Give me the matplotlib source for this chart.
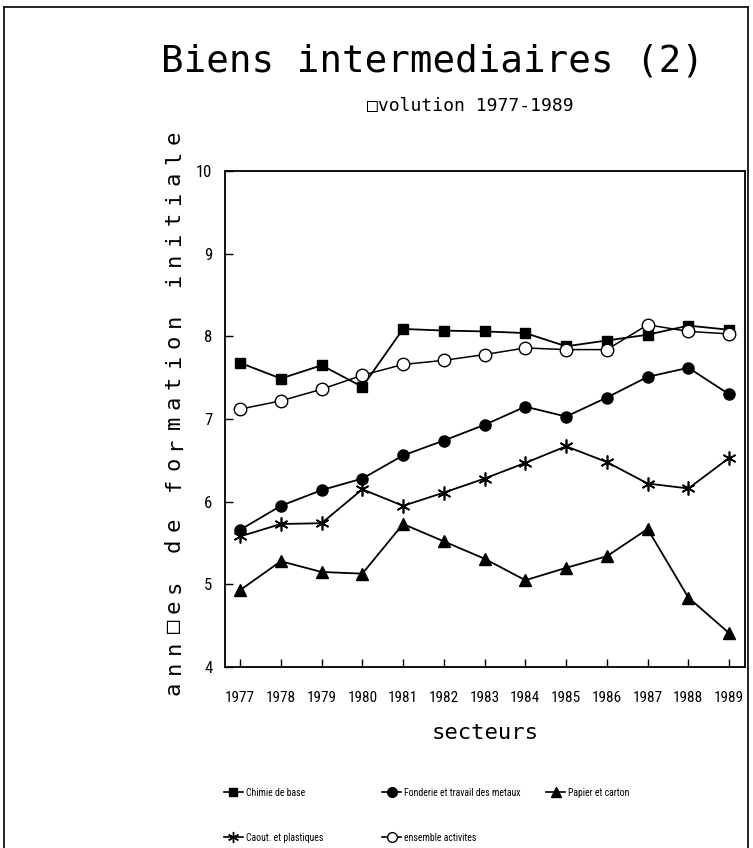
import matplotlib
matplotlib.use('Agg')
import matplotlib.pyplot as plt
from matplotlib.lines import Line2D

# data
years = [1977, 1978, 1979, 1980, 1981, 1982, 1983, 1984, 1985, 1986, 1987, 1988, 1989]
chimie = [7.68, 7.49, 7.65, 7.39, 8.09, 8.07, 8.06, 8.04, 7.88, 7.95, 8.02, 8.13, 8.08]
fonderie = [5.66, 5.95, 6.14, 6.28, 6.56, 6.74, 6.93, 7.15, 7.03, 7.26, 7.51, 7.62, 7.30]
papier = [4.93, 5.28, 5.15, 5.13, 5.73, 5.52, 5.31, 5.05, 5.20, 5.34, 5.67, 4.84, 4.41]
caout = [5.58, 5.73, 5.74, 6.15, 5.95, 6.11, 6.28, 6.47, 6.67, 6.48, 6.22, 6.16, 6.53]
ensemble = [7.12, 7.22, 7.36, 7.53, 7.66, 7.71, 7.78, 7.86, 7.84, 7.84, 8.14, 8.06, 8.03]
yticks = [4, 5, 6, 7, 8, 9, 10]

mono = 'DejaVu Sans Mono'
narrow = ['Roboto Condensed', 'DejaVu Sans Condensed', 'Liberation Sans Narrow', 'Roboto']

fig = plt.figure(figsize=(7.53, 8.48), dpi=100)
ax = fig.add_axes([0.2988, 0.2134, 0.6906, 0.5849])

ax.plot(years, chimie, color='black', lw=1.3, marker='s', ms=7, mfc='black')
ax.plot(years, fonderie, color='black', lw=1.3, marker='o', ms=8, mfc='black')
ax.plot(years, papier, color='black', lw=1.3, marker='^', ms=8, mfc='black')
ax.plot(years, caout, color='black', lw=1.3, marker=(6, 2, 0), ms=10, mew=1.2)
ax.plot(years, ensemble, color='black', lw=1.1, marker='o', ms=9, mfc='white', mew=1.0)

ax.set_xlim(1976.63, 1989.39)
ax.set_ylim(4, 10)
ax.set_xticks(years)
ax.set_xticklabels([str(y) for y in years], fontfamily=narrow, fontsize=11)
ax.set_yticks(yticks)
ax.set_yticklabels([str(v) for v in yticks], fontfamily=narrow, fontsize=12)
ax.tick_params(direction='in', length=6, width=1)
ax.tick_params(axis='x', pad=17)
ax.tick_params(axis='y', pad=9)
for s in ax.spines.values():
    s.set_linewidth(1.3)

ax.set_xlabel('secteurs', fontfamily=mono, fontsize=16, labelpad=13)

fig.text(0.575, 0.927, 'Biens intermediaires (2)', ha='center', va='center',
         fontfamily=mono, fontsize=27)
fig.text(0.625, 0.875, '\u25a1volution 1977-1989', ha='center', va='center',
         fontfamily=mono, fontsize=13)

# y label, letter-spaced like the original plotter output
ylab = 'ann\u25a1es de formation initiale'
y0, y1 = 1 - 688 / 848, 1 - 137 / 848
step = (y1 - y0) / (len(ylab) - 1)
for i, ch in enumerate(ylab):
    if ch != ' ':
        fig.text(0.231, y0 + i * step, ch, rotation=90, ha='center', va='center',
                 fontfamily=mono, fontsize=16)

# figure border
fig.add_artist(Line2D([0.005, 0.005], [0.0, 0.992], transform=fig.transFigure, color='black', lw=1.2))
fig.add_artist(Line2D([0.005, 0.994], [0.992, 0.992], transform=fig.transFigure, color='black', lw=1.2))
fig.add_artist(Line2D([0.994, 0.994], [0.0, 0.992], transform=fig.transFigure, color='black', lw=1.2))

# legend
handles = [
    Line2D([], [], color='black', lw=1.2, marker='s', ms=6, mfc='black'),
    Line2D([], [], color='black', lw=1.2, marker='o', ms=7, mfc='black'),
    Line2D([], [], color='black', lw=1.2, marker='^', ms=7, mfc='black'),
    Line2D([], [], color='black', lw=1.2, marker=(6, 2, 0), ms=8),
    Line2D([], [], color='black', lw=1.2, marker='o', ms=7, mfc='white'),
]
labels = ['Chimie de base', 'Fonderie et travail des metaux', 'Papier et carton',
          'Caout. et plastiques', 'ensemble activites']
pos = [(0.288, 0.065), (0.498, 0.065), (0.716, 0.065), (0.288, 0.012), (0.498, 0.012)]
for h, lab, (px, py) in zip(handles, labels, pos):
    fig.legend([h], [lab], loc='center left', bbox_to_anchor=(px, py),
               frameon=False, handlelength=2.0, handletextpad=0.3,
               borderpad=0.2, prop={'family': narrow, 'size': 7})

fig.savefig('out.png', dpi=100)
